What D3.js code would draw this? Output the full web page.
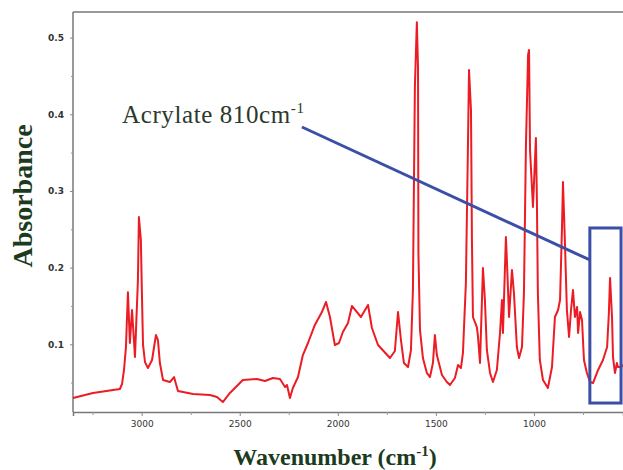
<!DOCTYPE html>
<html><head><meta charset="utf-8">
<script src="https://cdn.jsdelivr.net/npm/d3@7"></script>
<style>body{margin:0;background:#fff}svg{display:block}</style>
</head><body>
<script>
// Spectrum data: wavenumber (cm-1) and absorbance
const wavenumbers = [3350,3248,3111,3100,3090,3080,3070,3060,3049,3034,3019,3014,3004,2998,2993,2983,2968,2947,2927,2917,2907,2891,2856,2835,2815,2738,2652,2616,2586,2550,2484,2412,2371,2331,2295,2269,2259,2244,2229,2203,2178,2152,2117,2081,2060,2040,2015,1994,1974,1948,1928,1882,1846,1826,1795,1734,1709,1693,1678,1663,1642,1627,1617,1607,1597,1591,1589,1581,1566,1546,1530,1515,1505,1495,1469,1444,1428,1403,1387,1372,1362,1347,1337,1331,1321,1316,1311,1291,1286,1275,1260,1250,1240,1224,1209,1189,1173,1163,1158,1143,1138,1127,1112,1102,1087,1076,1061,1051,1041,1030,1025,1020,1005,990,985,980,970,954,929,908,893,877,867,857,852,842,832,821,811,801,791,780,775,765,755,745,730,714,699,673,648,627,618,612,602,597,587,577,572,556,546];
const absorbance = [0.030,0.0365,0.0417,0.0482,0.0665,0.0965,0.168,0.1017,0.1447,0.0834,0.184,0.266,0.236,0.158,0.0992,0.0769,0.069,0.0795,0.1121,0.1056,0.0756,0.0534,0.0508,0.0573,0.0391,0.0352,0.0339,0.0313,0.0247,0.0365,0.0534,0.0547,0.0521,0.056,0.0547,0.0443,0.0469,0.030,0.043,0.0573,0.086,0.1017,0.1252,0.1421,0.1552,0.1356,0.0991,0.1017,0.116,0.1278,0.150,0.1356,0.1513,0.1213,0.0991,0.0821,0.0913,0.1421,0.1056,0.0756,0.0704,0.0926,0.1708,0.4356,0.520,0.4604,0.219,0.1187,0.0821,0.0626,0.0573,0.0756,0.1121,0.086,0.060,0.0508,0.0469,0.056,0.073,0.0691,0.0887,0.180,0.3495,0.4578,0.4056,0.2321,0.1356,0.1225,0.1121,0.0756,0.1995,0.1578,0.0926,0.0626,0.0508,0.0665,0.1147,0.1578,0.1147,0.240,0.210,0.1356,0.1969,0.1669,0.0965,0.0821,0.0965,0.1669,0.3573,0.4773,0.4839,0.3534,0.279,0.369,0.2882,0.1669,0.0796,0.0534,0.043,0.0704,0.1356,0.1447,0.1578,0.253,0.3117,0.2321,0.1447,0.1095,0.1447,0.1708,0.1356,0.1487,0.1147,0.1421,0.1317,0.0796,0.0626,0.0508,0.0495,0.0665,0.0796,0.0965,0.1408,0.1866,0.1356,0.0834,0.0626,0.0756,0.0704,0.0704,0.073];

const xTickValues = [3000,2500,2000,1500,1000];
const xMinorTicks = [3250,2750,2250,1750,1250,750];
const yTickValues = [0.1,0.2,0.3,0.4,0.5];
const yMinorTicks = [0.05,0.15,0.25,0.35,0.45];

// annotation (in data units)
const calloutLine = [[2183,0.3834],[715,0.210]];
const calloutBox = {w0:715, w1:556, a0:0.2517, a1:0.0234};
const calloutLabel = {w:3100, a:0.3886, text:"Acrylate 810cm", sup:"-1"};

const W = 623, H = 470;
const svg = d3.select("body").append("svg").attr("width",W).attr("height",H);

const x = d3.scaleLinear().domain([3350,546]).range([73,623]);
const y = d3.scaleLinear().domain([0.0117,0.5334]).range([412,12]);

const frameColor = "#777";
// frame lines (left, top, bottom)
svg.append("line").attr("x1",73).attr("x2",73).attr("y1",12).attr("y2",412).attr("stroke",frameColor).attr("stroke-width",1.5);
svg.append("line").attr("x1",73).attr("x2",W).attr("y1",12).attr("y2",12).attr("stroke",frameColor).attr("stroke-width",1.5);

// x axis
const xAxis = svg.append("g").attr("transform","translate(0,412)")
  .call(d3.axisBottom(x).tickValues(xTickValues).tickSize(4).tickPadding(5).tickFormat(d3.format("d")));
xAxis.select(".domain").attr("stroke",frameColor).attr("stroke-width",1.5);
xAxis.selectAll(".tick line").attr("stroke","#888");
xAxis.selectAll("text").attr("font-family","'DejaVu Sans', Verdana, sans-serif").attr("font-size",9).attr("fill","#333");
svg.append("g").attr("transform","translate(0,412)")
  .call(d3.axisBottom(x).tickValues(xMinorTicks).tickSize(3).tickFormat(""))
  .call(g=>{g.select(".domain").remove(); g.selectAll("line").attr("stroke","#999");});

// y axis
const yAxis = svg.append("g").attr("transform","translate(73,0)")
  .call(d3.axisLeft(y).tickValues(yTickValues).tickSize(3).tickPadding(6).tickFormat(d3.format(".1f")));
yAxis.select(".domain").remove();
yAxis.selectAll(".tick line").attr("stroke","#888");
yAxis.selectAll("text").attr("font-family","'DejaVu Sans', Verdana, sans-serif").attr("font-size",9).attr("font-weight","bold").attr("fill","#333");
svg.append("g").attr("transform","translate(73,0)")
  .call(d3.axisLeft(y).tickValues(yMinorTicks).tickSize(2).tickFormat(""))
  .call(g=>{g.select(".domain").remove(); g.selectAll("line").attr("stroke","#999");});

// spectrum
const pts = wavenumbers.map((w,i)=>[w,absorbance[i]]);
svg.append("path").datum(pts)
  .attr("fill","none").attr("stroke","#ec1c24").attr("stroke-width",2).attr("stroke-linejoin","round")
  .attr("d", d3.line().x(d=>x(d[0])).y(d=>y(d[1])));

// callout
const blue = "#3b4fa6";
svg.append("line")
  .attr("x1",x(calloutLine[0][0])).attr("y1",y(calloutLine[0][1]))
  .attr("x2",x(calloutLine[1][0])).attr("y2",y(calloutLine[1][1]))
  .attr("stroke",blue).attr("stroke-width",3);
svg.append("rect")
  .attr("x",x(calloutBox.w0)).attr("y",y(calloutBox.a0))
  .attr("width",x(calloutBox.w1)-x(calloutBox.w0)).attr("height",y(calloutBox.a1)-y(calloutBox.a0))
  .attr("fill","none").attr("stroke",blue).attr("stroke-width",3);

const lbl = svg.append("text").attr("x",x(calloutLabel.w)).attr("y",y(calloutLabel.a))
  .attr("font-family","'Liberation Serif','Times New Roman',serif").attr("font-size",25)
  .attr("letter-spacing",0.6).attr("fill","#2b392b");
lbl.append("tspan").text(calloutLabel.text);
lbl.append("tspan").attr("dy",-10).attr("font-size",15).text(calloutLabel.sup);

// axis titles
const titleColor = "#1c3a1c";
svg.append("text").attr("transform","translate(32,196) rotate(-90)").attr("text-anchor","middle")
  .attr("font-family","'Liberation Serif','Times New Roman',serif").attr("font-weight","bold")
  .attr("font-size",28).attr("fill",titleColor).text("Absorbance");
const xt = svg.append("text").attr("x",335).attr("y",465).attr("text-anchor","middle")
  .attr("font-family","'Liberation Serif','Times New Roman',serif").attr("font-weight","bold")
  .attr("font-size",24).attr("fill",titleColor);
xt.append("tspan").text("Wavenumber (cm");
xt.append("tspan").attr("dy",-9).attr("font-size",15).text("-1");
xt.append("tspan").attr("dy",9).text(")");
</script>
</body></html>
